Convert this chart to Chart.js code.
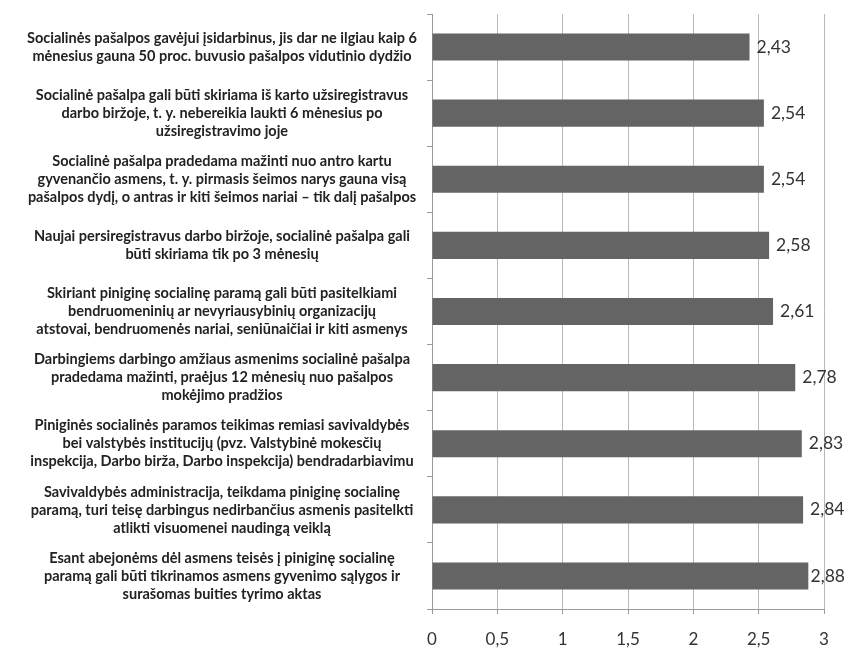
<!DOCTYPE html>
<html>
<head>
<meta charset="utf-8">
<script src="https://cdn.jsdelivr.net/npm/chart.js@4"></script>
<style>
  html, body { margin: 0; padding: 0; background: #fff; }
  #wrap { width: 847px; height: 648px; }
</style>
</head>
<body>
<div id="wrap"><canvas id="chart" width="847" height="648"></canvas></div>
<script>
// ===== Data =====
const CATEGORIES = [
  ['Socialinės pašalpos gavėjui įsidarbinus, jis dar ne ilgiau kaip 6', 'mėnesius gauna 50 proc. buvusio pašalpos vidutinio dydžio'],
  ['Socialinė pašalpa gali būti skiriama iš karto užsiregistravus', 'darbo biržoje, t. y. nebereikia laukti 6 mėnesius po', 'užsiregistravimo joje'],
  ['Socialinė pašalpa pradedama mažinti nuo antro kartu', 'gyvenančio asmens, t. y. pirmasis šeimos narys gauna visą', 'pašalpos dydį, o antras ir kiti šeimos nariai – tik dalį pašalpos'],
  ['Naujai persiregistravus darbo biržoje, socialinė pašalpa gali', 'būti skiriama tik po 3 mėnesių'],
  ['Skiriant piniginę socialinę paramą gali būti pasitelkiami', 'bendruomeninių ar nevyriausybinių organizacijų', 'atstovai, bendruomenės nariai, seniūnaičiai ir kiti asmenys'],
  ['Darbingiems darbingo amžiaus asmenims socialinė pašalpa', 'pradedama mažinti, praėjus 12 mėnesių nuo pašalpos', 'mokėjimo pradžios'],
  ['Piniginės socialinės paramos teikimas remiasi savivaldybės', 'bei valstybės institucijų (pvz. Valstybinė mokesčių', 'inspekcija, Darbo birža, Darbo inspekcija) bendradarbiavimu'],
  ['Savivaldybės administracija, teikdama piniginę socialinę', 'paramą, turi teisę darbingus nedirbančius asmenis pasitelkti', 'atlikti visuomenei naudingą veiklą'],
  ['Esant abejonėms dėl asmens teisės į piniginę socialinę', 'paramą gali būti tikrinamos asmens gyvenimo sąlygos ir', 'surašomas buities tyrimo aktas']
];
const VALUES = [2.43, 2.54, 2.54, 2.58, 2.61, 2.78, 2.83, 2.84, 2.88];
const X_MIN = 0;
const X_MAX = 3;
const X_STEP = 0.5;

const BAR_COLOR = '#646464';
const GRID_COLOR = '#b8b8b8';
const AXIS_COLOR = '#9a9a9a';
const TEXT_COLOR = '#333';
const FONT = 'Lato, "Open Sans", sans-serif';

const commaNum = (v, d) => (d == null ? String(v) : v.toFixed(d)).replace('.', ',');

// value labels at the end of each bar (kept inside the canvas like Excel does)
const valueLabels = {
  id: 'valueLabels',
  afterDatasetsDraw(chart) {
    const ctx = chart.ctx;
    const meta = chart.getDatasetMeta(0);
    ctx.save();
    ctx.font = '17.5px ' + FONT;
    ctx.fillStyle = TEXT_COLOR;
    ctx.textAlign = 'left';
    ctx.textBaseline = 'middle';
    meta.data.forEach((bar, i) => {
      const txt = commaNum(VALUES[i], 2);
      const w = ctx.measureText(txt).width;
      const x = Math.min(bar.x + 7, chart.width - w - 2);
      ctx.fillText(txt, x, bar.y);
    });
    ctx.restore();
  }
};

new Chart(document.getElementById('chart'), {
  type: 'bar',
  data: {
    labels: CATEGORIES,
    datasets: [{
      data: VALUES,
      backgroundColor: BAR_COLOR,
      borderWidth: 0,
      categoryPercentage: 1,
      barPercentage: 0.41
    }]
  },
  options: {
    indexAxis: 'y',
    responsive: false,
    animation: false,
    layout: { padding: { top: 14, right: 23, left: 0, bottom: 0 } },
    plugins: { legend: { display: false }, tooltip: { enabled: false } },
    scales: {
      x: {
        min: X_MIN,
        max: X_MAX,
        afterFit: s => { s.height = 39; },
        ticks: {
          stepSize: X_STEP,
          color: TEXT_COLOR,
          padding: 15,
          font: { family: FONT, size: 17 },
          callback: v => commaNum(v)
        },
        grid: { color: GRID_COLOR, tickLength: 5, tickColor: AXIS_COLOR },
        border: { color: AXIS_COLOR }
      },
      y: {
        afterFit: s => { s.width = 432; s.paddingTop = 0; s.paddingBottom = 0; },
        ticks: {
          crossAlign: 'center',
          color: '#222',
          padding: 10,
          autoSkip: false,
          font: { family: FONT, size: 14.5, weight: 'bold', lineHeight: '18px' }
        },
        grid: { offset: true, drawOnChartArea: false, tickLength: 5, color: AXIS_COLOR },
        border: { color: AXIS_COLOR }
      }
    }
  },
  plugins: [valueLabels]
});
</script>
</body>
</html>
